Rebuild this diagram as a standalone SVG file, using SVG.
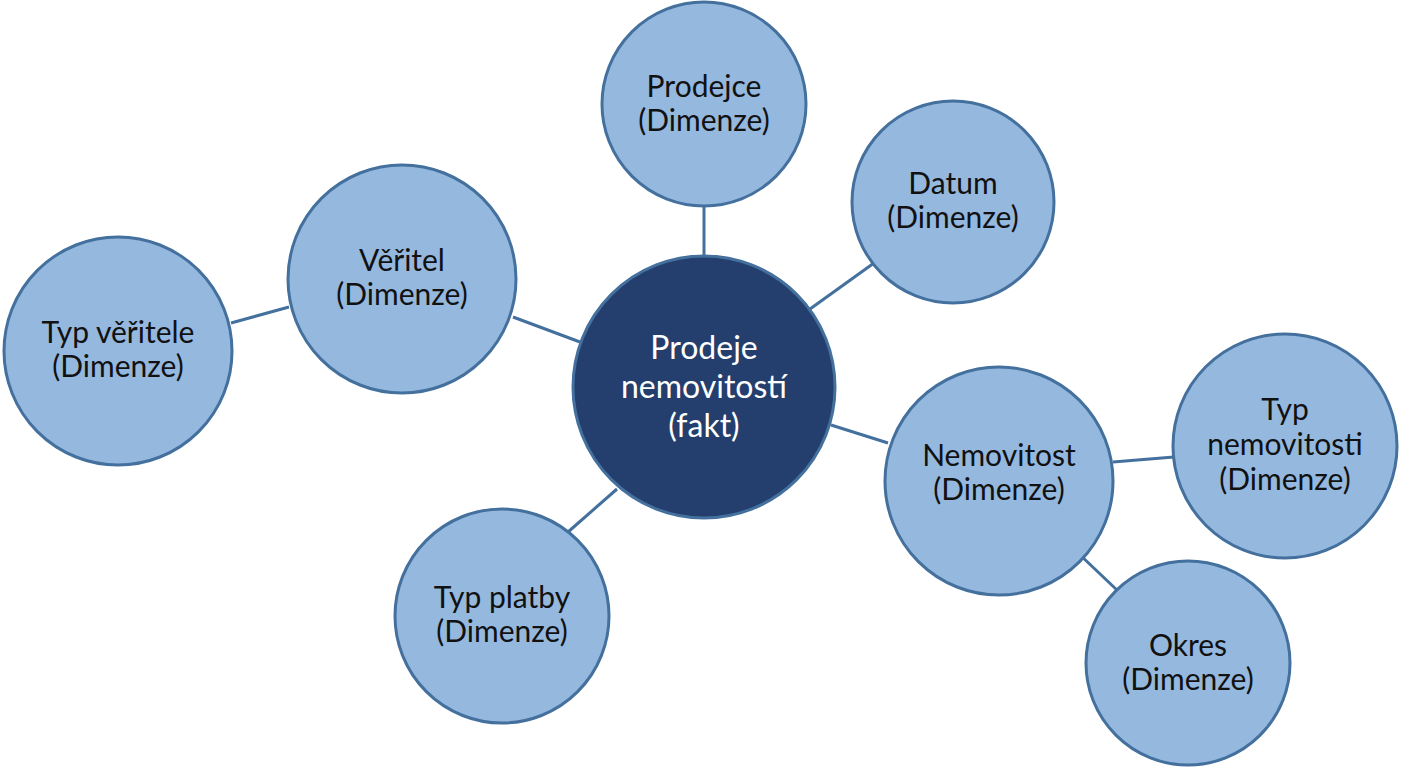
<svg xmlns="http://www.w3.org/2000/svg" width="1408" height="768" viewBox="0 0 1408 768">
<style>
.dim{fill:#95B8DF;stroke:#44709E;stroke-width:3}
.fact{fill:#243F6D;stroke:#44709E;stroke-width:3}
.lbl{font-family:Lato,"Liberation Sans",sans-serif;font-size:30px;fill:#111;text-anchor:middle}
.flbl{font-family:Lato,"Liberation Sans",sans-serif;font-size:32px;fill:#fff;text-anchor:middle}
.edge{stroke:#44709E;stroke-width:3;fill:none}
</style>
<rect width="1408" height="768" fill="#fff"/>
<g id="connectors">
<line class="edge" x1="704" y1="206" x2="704" y2="257"/>
<line class="edge" x1="810" y1="309" x2="874" y2="263"/>
<line class="edge" x1="513" y1="317" x2="580" y2="342"/>
<line class="edge" x1="231" y1="323" x2="289" y2="307"/>
<line class="edge" x1="831" y1="425" x2="888" y2="443"/>
<line class="edge" x1="617" y1="489" x2="568" y2="532"/>
<line class="edge" x1="1113" y1="462" x2="1174" y2="457"/>
<line class="edge" x1="1078" y1="553" x2="1118" y2="591"/>
</g>
<g id="fact">
<circle class="fact" cx="704" cy="387" r="131"/>
<text class="flbl" x="704" y="359">Prodeje</text>
<text class="flbl" x="704" y="398">nemovitostí</text>
<text class="flbl" x="704" y="437">(fakt)</text>
</g>
<g id="prodejce">
<circle class="dim" cx="704" cy="104" r="102"/>
<text class="lbl" x="704" y="97">Prodejce</text>
<text class="lbl" x="704" y="131">(Dimenze)</text>
</g>
<g id="datum">
<circle class="dim" cx="953" cy="202" r="101"/>
<text class="lbl" x="953" y="194">Datum</text>
<text class="lbl" x="953" y="228">(Dimenze)</text>
</g>
<g id="veritel">
<circle class="dim" cx="402" cy="279" r="114"/>
<text class="lbl" x="402" y="271">Věřitel</text>
<text class="lbl" x="402" y="305">(Dimenze)</text>
</g>
<g id="typ-veritele">
<circle class="dim" cx="118" cy="351" r="114"/>
<text class="lbl" x="118" y="343">Typ věřitele</text>
<text class="lbl" x="118" y="377">(Dimenze)</text>
</g>
<g id="nemovitost">
<circle class="dim" cx="999" cy="481" r="114"/>
<text class="lbl" x="999" y="466">Nemovitost</text>
<text class="lbl" x="999" y="500">(Dimenze)</text>
</g>
<g id="typ-nemovitosti">
<circle class="dim" cx="1285" cy="446" r="112"/>
<text class="lbl" x="1285" y="420">Typ</text>
<text class="lbl" x="1285" y="455">nemovitosti</text>
<text class="lbl" x="1285" y="490">(Dimenze)</text>
</g>
<g id="okres">
<circle class="dim" cx="1188" cy="663" r="102"/>
<text class="lbl" x="1188" y="656">Okres</text>
<text class="lbl" x="1188" y="690">(Dimenze)</text>
</g>
<g id="typ-platby">
<circle class="dim" cx="502" cy="616" r="107"/>
<text class="lbl" x="502" y="608">Typ platby</text>
<text class="lbl" x="502" y="642">(Dimenze)</text>
</g>
</svg>
